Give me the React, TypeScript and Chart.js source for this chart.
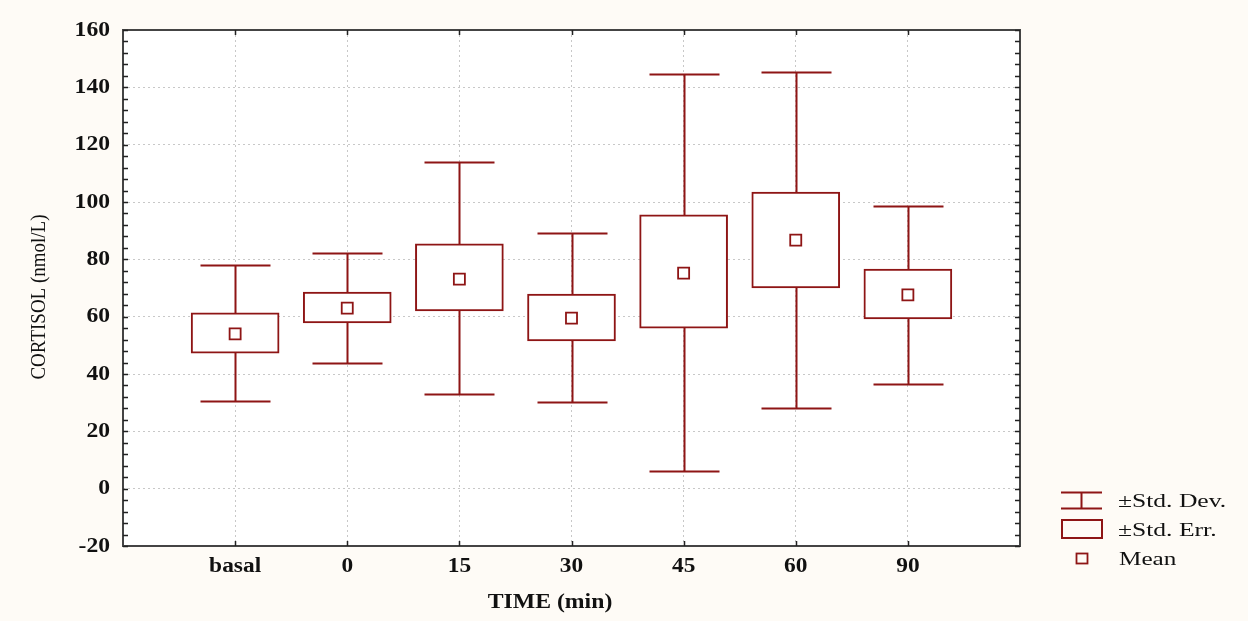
import React, { useEffect, useRef } from "react";
import { Chart, registerables } from "chart.js";

Chart.register(...registerables);

const categories = ["basal", "0", "15", "30", "45", "60", "90"];
const means = [54, 63, 73.1, 59.5, 75.2, 86.7, 67.6];
const seLow = [47.3, 57.8, 62, 51.5, 56, 70, 59.2];
const seHigh = [61.3, 68.6, 85.4, 67.9, 95.5, 103.5, 76.6];
const sdLow = [30.6, 43.8, 33, 30.2, 6.2, 28.1, 36.5];
const sdHigh = [78, 82.2, 114, 89.2, 144.7, 145.3, 98.6];
const yTicks = [-20, 0, 20, 40, 60, 80, 100, 120, 140, 160];
const legendLabels = ["±Std. Dev.", "±Std. Err.", "Mean"];

const RED = "#8E1515";
const CREAM = "#FEFBF6";
const FONT = "'Liberation Serif', 'Times New Roman', serif";

function stretchText(ctx: any, text: string, x: number, y: number, font: string, sx: number, align: string) {
  ctx.save();
  ctx.translate(x, y);
  ctx.scale(sx, 1);
  ctx.font = font;
  ctx.textAlign = align;
  ctx.fillText(text, 0, 0);
  ctx.restore();
}

export default function App() {
  const ref = useRef<HTMLCanvasElement>(null);

  useEffect(() => {
    document.body.style.margin = "0";
    const canvas = ref.current!;
    const decor = {
      id: "decor",
      beforeDraw(chart: any) {
        const { ctx, chartArea: a } = chart;
        ctx.save();
        ctx.fillStyle = CREAM;
        ctx.fillRect(0, 0, chart.width, chart.height);
        ctx.fillStyle = "#ffffff";
        ctx.fillRect(a.left, a.top, a.right - a.left, a.bottom - a.top);
        ctx.restore();
      },
      beforeDatasetsDraw(chart: any) {
        const { ctx, scales } = chart;
        const xs = scales.x, ys = scales.y;
        ctx.save();
        ctx.strokeStyle = RED;
        ctx.lineWidth = 2;
        const capHalf = 35;
        categories.forEach((_, i) => {
          const x = Math.round(xs.getPixelForValue(i + 1)) + 0.5;
          const yt = Math.round(ys.getPixelForValue(sdHigh[i])) + 0.5;
          const yb = Math.round(ys.getPixelForValue(sdLow[i])) + 0.5;
          ctx.beginPath();
          ctx.moveTo(x, yt);
          ctx.lineTo(x, yb);
          ctx.moveTo(x - capHalf, yt);
          ctx.lineTo(x + capHalf, yt);
          ctx.moveTo(x - capHalf, yb);
          ctx.lineTo(x + capHalf, yb);
          ctx.stroke();
        });
        ctx.restore();
      },
      afterDraw(chart: any) {
        const { ctx, chartArea: a, scales } = chart;
        const ys = scales.y, xs = scales.x;
        ctx.save();
        // frame
        ctx.strokeStyle = "#444";
        ctx.lineWidth = 2;
        ctx.strokeRect(a.left, a.top, a.right - a.left, a.bottom - a.top);
        // minor ticks
        ctx.lineWidth = 1.5;
        ctx.strokeStyle = "#222";
        ctx.beginPath();
        for (let v = -20; v <= 160; v += 4) {
          const y = Math.round(ys.getPixelForValue(v)) + 0.5;
          ctx.moveTo(a.left, y);
          ctx.lineTo(a.left + 5, y);
          ctx.moveTo(a.right, y);
          ctx.lineTo(a.right - 5, y);
        }
        categories.forEach((_, i) => {
          const x = Math.round(xs.getPixelForValue(i + 1)) + 0.5;
          ctx.moveTo(x, a.bottom);
          ctx.lineTo(x, a.bottom - 5);
          ctx.moveTo(x, a.top);
          ctx.lineTo(x, a.top + 5);
        });
        ctx.stroke();

        ctx.fillStyle = "#111";
        // y tick labels
        ctx.textBaseline = "middle";
        yTicks.forEach((v) => {
          stretchText(ctx, String(v), 110, ys.getPixelForValue(v) + 0.5, `bold 20px ${FONT}`, 1.18, "right");
        });
        // x tick labels
        ctx.textBaseline = "alphabetic";
        categories.forEach((c, i) => {
          stretchText(ctx, c, xs.getPixelForValue(i + 1), 572, `bold 20px ${FONT}`, 1.17, "center");
        });

        // axis titles
        ctx.textBaseline = "middle";
        stretchText(ctx, "TIME (min)", 550, 603, `bold 21px ${FONT}`, 1.13, "center");
        ctx.save();
        ctx.translate(40, 297);
        ctx.rotate(-Math.PI / 2);
        ctx.scale(1, 1.1);
        ctx.font = `19px ${FONT}`;
        ctx.textAlign = "center";
        ctx.fillText("CORTISOL (nmol/L)", 0, 0);
        ctx.restore();

        // legend
        ctx.strokeStyle = RED;
        ctx.lineWidth = 2;
        ctx.beginPath();
        ctx.moveTo(1061, 492.5);
        ctx.lineTo(1102, 492.5);
        ctx.moveTo(1061, 508.5);
        ctx.lineTo(1102, 508.5);
        ctx.moveTo(1081.5, 492.5);
        ctx.lineTo(1081.5, 508.5);
        ctx.stroke();
        ctx.strokeRect(1062, 520, 40, 18);
        ctx.lineWidth = 1.8;
        ctx.strokeRect(1076.5, 553.5, 11, 10);
        ctx.fillStyle = "#111";
        ctx.textBaseline = "alphabetic";
        stretchText(ctx, legendLabels[0], 1118, 507, `18px ${FONT}`, 1.42, "left");
        stretchText(ctx, legendLabels[1], 1118, 536, `18px ${FONT}`, 1.42, "left");
        stretchText(ctx, legendLabels[2], 1119, 565, `18px ${FONT}`, 1.4, "left");
        ctx.restore();
      },
    };

    const chart = new Chart(canvas, {
      type: "bar",
      data: {
        datasets: [
          {
            type: "scatter",
            label: "Mean",
            data: means.map((m, i) => ({ x: i + 1, y: m })),
            pointStyle: "rect",
            pointRadius: 7.8,
            pointBackgroundColor: "#ffffff",
            pointBorderColor: RED,
            pointBorderWidth: 1.8,
            order: 0,
          } as any,
          {
            type: "bar",
            label: "±Std. Err.",
            data: seLow.map((lo, i) => ({ x: i + 1, y: [lo, seHigh[i]] })),
            backgroundColor: "#ffffff",
            borderColor: RED,
            borderWidth: 2,
            borderSkipped: false,
            barThickness: 88,
            order: 1,
          } as any,
        ],
      },
      options: {
        responsive: false,
        animation: false,
        layout: { padding: { top: 30, right: 228, left: 0, bottom: 0 } },
        plugins: { legend: { display: false }, tooltip: { enabled: false } },
        scales: {
          x: {
            type: "linear",
            min: 0,
            max: 8,
            offset: false,
            afterFit: (s: any) => {
              s.height = 75;
            },
            afterBuildTicks: (s: any) => {
              s.ticks = [0, 1, 2, 3, 4, 5, 6, 7, 8].map((v) => ({ value: v }));
            },
            ticks: { display: false },
            grid: { color: "#c8c8c8", drawTicks: false, lineWidth: 1, offset: false },
            border: { display: false, dash: [2, 3] },
          } as any,
          y: {
            type: "linear",
            min: -20,
            max: 160,
            afterFit: (s: any) => {
              s.width = 123;
            },
            afterBuildTicks: (s: any) => {
              s.ticks = yTicks.map((v) => ({ value: v }));
            },
            ticks: { display: false },
            grid: { color: "#c8c8c8", drawTicks: false, lineWidth: 1 },
            border: { display: false, dash: [2, 3] },
          } as any,
        },
      },
      plugins: [decor],
    });
    return () => chart.destroy();
  }, []);

  return (
    <div style={{ width: 1248, height: 621, background: CREAM }}>
      <canvas ref={ref} width={1248} height={621} style={{ display: "block" }} />
    </div>
  );
}
